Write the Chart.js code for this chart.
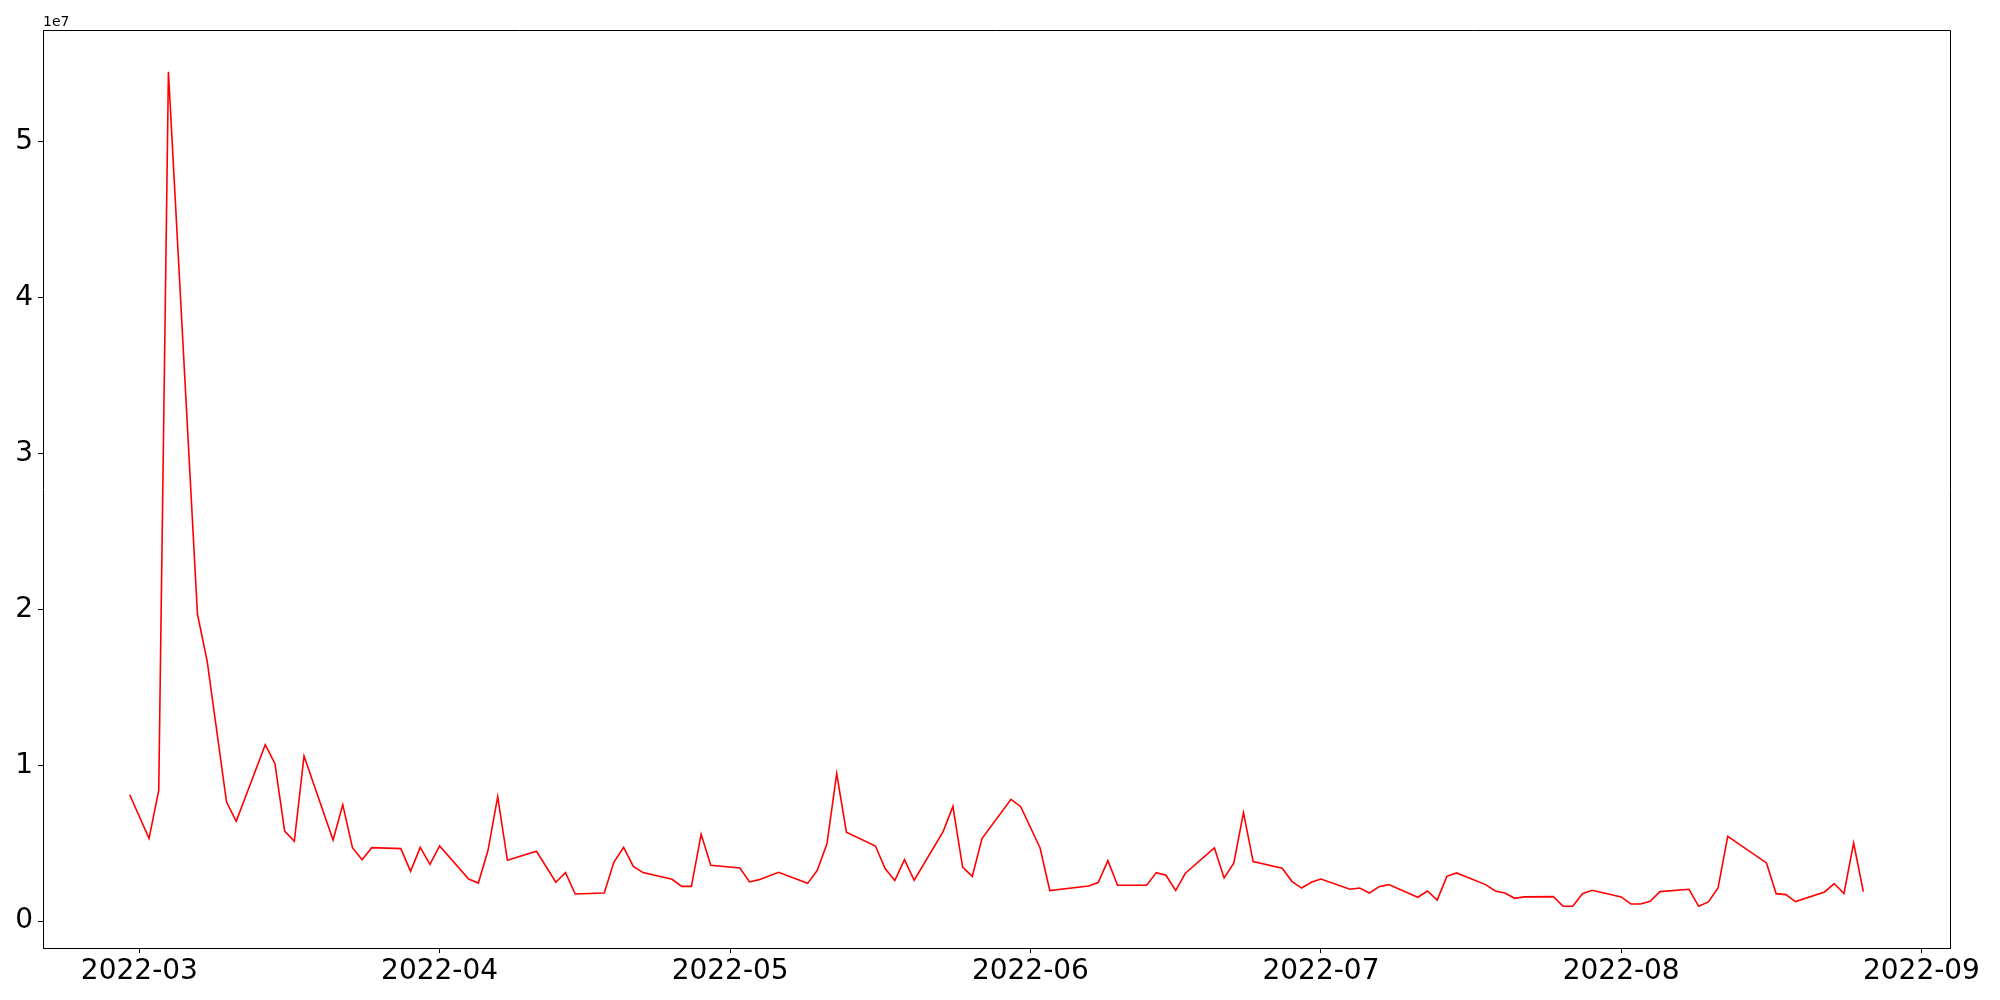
<!DOCTYPE html>
<html>
<head>
  <title>Daily volume</title>
  <script src="https://cdn.jsdelivr.net/npm/chart.js@4/dist/chart.umd.min.js"></script>
  <style>
    body { margin: 0; background: #fff; }
  </style>
</head>
<body>
  <canvas id="myChart" width="2000" height="1000"></canvas>
  <script>
    // dates and values
    var dates = [
      '2022-02-28', '2022-03-02', '2022-03-03', '2022-03-04', '2022-03-07', '2022-03-08', '2022-03-10', '2022-03-11',
      '2022-03-14', '2022-03-15', '2022-03-16', '2022-03-17', '2022-03-18', '2022-03-21', '2022-03-22', '2022-03-23',
      '2022-03-24', '2022-03-25', '2022-03-28', '2022-03-29', '2022-03-30', '2022-03-31', '2022-04-01', '2022-04-04',
      '2022-04-05', '2022-04-06', '2022-04-07', '2022-04-08', '2022-04-11', '2022-04-13', '2022-04-14', '2022-04-15',
      '2022-04-18', '2022-04-19', '2022-04-20', '2022-04-21', '2022-04-22', '2022-04-25', '2022-04-26', '2022-04-27',
      '2022-04-28', '2022-04-29', '2022-05-02', '2022-05-03', '2022-05-04', '2022-05-06', '2022-05-09', '2022-05-10',
      '2022-05-11', '2022-05-12', '2022-05-13', '2022-05-16', '2022-05-17', '2022-05-18', '2022-05-19', '2022-05-20',
      '2022-05-23', '2022-05-24', '2022-05-25', '2022-05-26', '2022-05-27', '2022-05-30', '2022-05-31', '2022-06-02',
      '2022-06-03', '2022-06-07', '2022-06-08', '2022-06-09', '2022-06-10', '2022-06-13', '2022-06-14', '2022-06-15',
      '2022-06-16', '2022-06-17', '2022-06-20', '2022-06-21', '2022-06-22', '2022-06-23', '2022-06-24', '2022-06-27',
      '2022-06-28', '2022-06-29', '2022-06-30', '2022-07-01', '2022-07-04', '2022-07-05', '2022-07-06', '2022-07-07',
      '2022-07-08', '2022-07-11', '2022-07-12', '2022-07-13', '2022-07-14', '2022-07-15', '2022-07-18', '2022-07-19',
      '2022-07-20', '2022-07-21', '2022-07-22', '2022-07-25', '2022-07-26', '2022-07-27', '2022-07-28', '2022-07-29',
      '2022-08-01', '2022-08-02', '2022-08-03', '2022-08-04', '2022-08-05', '2022-08-08', '2022-08-09', '2022-08-10',
      '2022-08-11', '2022-08-12', '2022-08-16', '2022-08-17', '2022-08-18', '2022-08-19', '2022-08-22', '2022-08-23',
      '2022-08-24', '2022-08-25', '2022-08-26'
    ];
    var values = [
      8110000, 5310000, 8390000, 54510000, 19690000, 16680000, 7640000, 6400000,
      11320000, 10100000, 5780000, 5120000, 10590000, 5200000, 7470000, 4710000,
      3940000, 4710000, 4650000, 3190000, 4730000, 3640000, 4820000, 2700000,
      2440000, 4540000, 7990000, 3900000, 4480000, 2490000, 3110000, 1740000,
      1800000, 3790000, 4730000, 3510000, 3110000, 2680000, 2230000, 2230000,
      5570000, 3580000, 3410000, 2510000, 2660000, 3130000, 2420000, 3260000,
      4970000, 9460000, 5710000, 4820000, 3370000, 2600000, 3940000, 2620000,
      5760000, 7360000, 3470000, 2870000, 5290000, 7810000, 7340000, 4690000,
      1960000, 2250000, 2470000, 3880000, 2300000, 2300000, 3110000, 2940000,
      1960000, 3070000, 4690000, 2770000, 3710000, 6960000, 3820000, 3390000,
      2550000, 2120000, 2490000, 2700000, 2040000, 2120000, 1800000, 2210000,
      2340000, 1530000, 1930000, 1350000, 2870000, 3090000, 2340000, 1930000,
      1800000, 1460000, 1550000, 1570000, 950000, 950000, 1760000, 1980000,
      1550000, 1100000, 1100000, 1270000, 1890000, 2040000, 950000, 1230000,
      2120000, 5440000, 3730000, 1760000, 1700000, 1250000, 1870000, 2410000,
      1760000, 5010000, 1890000
    ];
    var monthStarts = ['2022-03-01', '2022-04-01', '2022-05-01', '2022-06-01', '2022-07-01', '2022-08-01', '2022-09-01'];
    var monthLabels = ['2022-03', '2022-04', '2022-05', '2022-06', '2022-07', '2022-08', '2022-09'];
    var yTicks = [0, 10000000, 20000000, 30000000, 40000000, 50000000];

    function dayNum(s) {
      var p = s.split('-');
      return Date.UTC(+p[0], +p[1] - 1, +p[2]) / 86400000;
    }

    var points = dates.map(function(d, i) { return {x: dayNum(d), y: values[i]}; });

    // matplotlib style 5% margins
    var xMin = dayNum(dates[0]), xMax = dayNum(dates[dates.length - 1]);
    var xPad = (xMax - xMin) * 0.05;
    var yMin = Math.min.apply(null, values), yMax = Math.max.apply(null, values);
    var yPad = (yMax - yMin) * 0.05;

    var tickFont = {family: 'DejaVu Sans', size: 28};

    // top/right spines and the offset text
    var frame = {
      id: 'frame',
      afterDraw: function(chart) {
        var a = chart.chartArea, c = chart.ctx;
        c.save();
        c.strokeStyle = '#000';
        c.lineWidth = 1;
        c.beginPath();
        c.moveTo(a.left, a.top + 0.5);
        c.lineTo(a.right + 0.5, a.top + 0.5);
        c.lineTo(a.right + 0.5, a.bottom);
        c.stroke();
        c.fillStyle = '#000';
        c.font = '14px DejaVu Sans';
        c.textBaseline = 'alphabetic';
        c.fillText('1e7', a.left, a.top - 4);
        c.restore();
      }
    };

    var ctx = document.getElementById('myChart').getContext('2d');
    var chart = new Chart(ctx, {
      type: 'line',
      data: {
        datasets: [{
          label: 'Volume',
          data: points,
          borderColor: '#ff0000',
          borderWidth: 1.6,
          pointRadius: 0,
          tension: 0,
          fill: false
        }]
      },
      options: {
        responsive: false,
        devicePixelRatio: 1,
        animation: false,
        layout: {padding: {top: 30, right: 50, left: 0, bottom: 0}},
        plugins: {legend: {display: false}, tooltip: {enabled: false}},
        scales: {
          x: {
            type: 'linear',
            min: xMin - xPad,
            max: xMax + xPad,
            afterBuildTicks: function(s) {
              s.ticks = monthStarts.map(function(d) { return {value: dayNum(d)}; });
            },
            afterFit: function(s) { s.height = 52; },
            ticks: {
              autoSkip: false,
              maxRotation: 0,
              color: '#000',
              font: tickFont,
              padding: 2,
              callback: function(v, i) { return monthLabels[i]; }
            },
            grid: {display: true, drawOnChartArea: false, tickLength: 5, color: '#000'},
            border: {display: true, color: '#000', width: 1}
          },
          y: {
            min: yMin - yPad,
            max: yMax + yPad,
            afterBuildTicks: function(s) {
              s.ticks = yTicks.map(function(v) { return {value: v}; });
            },
            afterFit: function(s) { s.width = 43; },
            ticks: {
              color: '#000',
              font: tickFont,
              padding: 5,
              callback: function(v) { return String(v / 10000000); }
            },
            grid: {display: true, drawOnChartArea: false, tickLength: 5, color: '#000'},
            border: {display: true, color: '#000', width: 1}
          }
        }
      },
      plugins: [frame]
    });
  </script>
</body>
</html>
